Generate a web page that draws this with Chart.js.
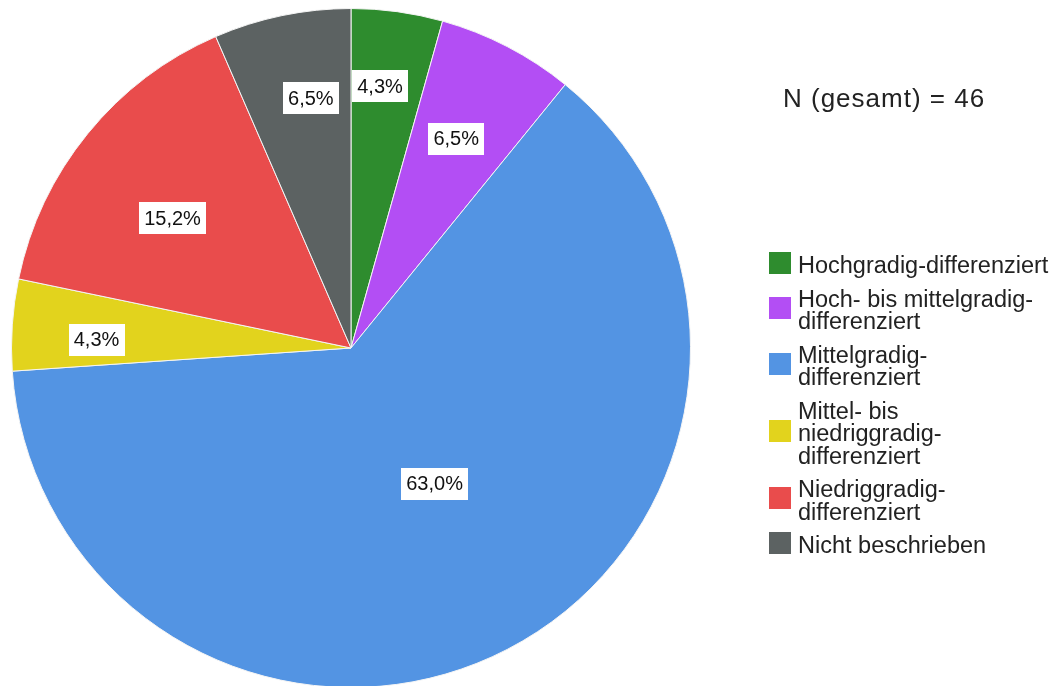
<!DOCTYPE html>
<html>
<head>
<meta charset="utf-8">
<script src="https://cdn.jsdelivr.net/npm/chart.js@4"></script>
<style>
  html, body { margin: 0; padding: 0; background: #fff; overflow: hidden; }
  #wrap { position: relative; width: 1059px; height: 700px; }
</style>
</head>
<body>
<div id="wrap"><canvas id="pieChart"></canvas></div>
<script>
// Differenzierungsgrad, N = 46
const categories = [
  ['Hochgradig-differenziert'],
  ['Hoch- bis mittelgradig-', 'differenziert'],
  ['Mittelgradig-', 'differenziert'],
  ['Mittel- bis', 'niedriggradig-', 'differenziert'],
  ['Niedriggradig-', 'differenziert'],
  ['Nicht beschrieben']
];
const counts = [2, 3, 29, 2, 7, 3];
const percentLabels = ['4,3%', '6,5%', '63,0%', '4,3%', '15,2%', '6,5%'];
const totalText = 'N (gesamt) = 46';

const sliceColors = ['#2e8c2e', '#b34ef4', '#5394e3', '#e2d31d', '#e94c4c', '#5c6262'];
// Lage der Beschriftung: Anteil am Radius und Winkelversatz in Grad
const labelRadius = [0.775, 0.69, 0.47, 0.75, 0.65, 0.745];
const labelShift = [-1.5, -0.7, -4.2, -2.1, -3.1, 2.6];

const FONT = '"Liberation Sans", Arial, sans-serif';

const labelsPlugin = {
  id: 'pieLabels',
  afterDatasetsDraw(chart) {
    const ctx = chart.ctx;
    const arcs = chart.getDatasetMeta(0).data;
    ctx.save();
    ctx.font = '20px ' + FONT;
    ctx.textAlign = 'center';
    ctx.textBaseline = 'middle';
    arcs.forEach((arc, i) => {
      const p = arc.getProps(['x', 'y', 'startAngle', 'endAngle', 'outerRadius'], true);
      const mid = (p.startAngle + p.endAngle) / 2 + labelShift[i] * Math.PI / 180;
      const r = p.outerRadius * labelRadius[i];
      const cx = p.x + Math.cos(mid) * r;
      const cy = p.y + Math.sin(mid) * r;
      const w = ctx.measureText(percentLabels[i]).width + 10;
      const h = 32;
      ctx.fillStyle = '#ffffff';
      ctx.fillRect(Math.round(cx - w / 2), Math.round(cy - h / 2), Math.round(w), h);
      ctx.fillStyle = '#111111';
      ctx.fillText(percentLabels[i], cx, cy + 1);
    });
    ctx.restore();
  }
};

const legendPlugin = {
  id: 'sideLegend',
  afterDraw(chart) {
    const ctx = chart.ctx;
    ctx.save();
    ctx.fillStyle = '#222222';
    ctx.textBaseline = 'alphabetic';
    ctx.textAlign = 'left';
    ctx.font = '26px ' + FONT;
    ctx.letterSpacing = '1px';
    ctx.fillText(totalText, 783, 107);
    ctx.letterSpacing = '0px';

    ctx.font = '23.5px ' + FONT;
    const lineH = 22.5, gap = 11, box = 22;
    let base = 273;
    categories.forEach((lines, i) => {
      const first = base;
      lines.forEach((t, k) => {
        ctx.fillStyle = '#222222';
        ctx.fillText(t, 798, base);
        if (k < lines.length - 1) base += lineH;
      });
      const mid = (first + base) / 2 - 10;
      ctx.fillStyle = sliceColors[i];
      ctx.fillRect(769, Math.round(mid - box / 2), box, box);
      base += lineH + gap;
    });
    ctx.restore();
  }
};

new Chart(document.querySelector('#pieChart'), {
  type: 'pie',
  data: {
    labels: categories,
    datasets: [{
      data: counts,
      backgroundColor: sliceColors,
      borderColor: '#f4f4f4',
      borderWidth: 1
    }]
  },
  options: {
    responsive: true,
    maintainAspectRatio: false,
    animation: false,
    layout: { padding: { left: 11, top: 8, right: 368, bottom: 12 } },
    plugins: {
      legend: { display: false },
      tooltip: { enabled: false }
    }
  },
  plugins: [labelsPlugin, legendPlugin]
});
</script>
</body>
</html>
